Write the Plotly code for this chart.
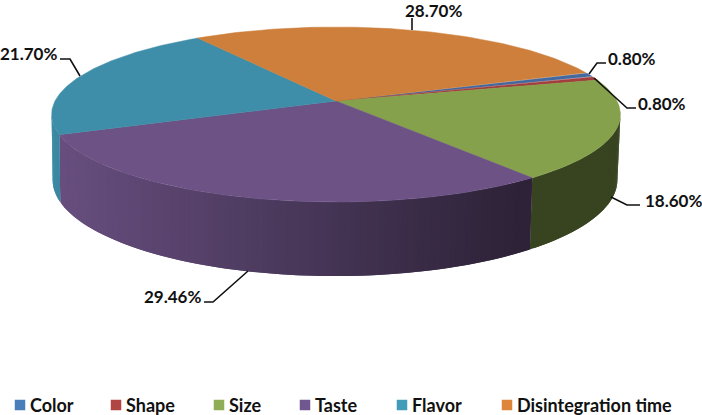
import numpy as np
import plotly.graph_objects as go

categories = ["Color", "Shape", "Size", "Taste", "Flavor", "Disintegration time"]
values = [0.80, 0.80, 18.60, 29.46, 21.70, 28.70]
value_labels = ["0.80%", "0.80%", "18.60%", "29.46%", "21.70%", "28.70%"]

top_colors = ["#44699f", "#a33e3e", "#86a14b", "#6c5285", "#3e8ea9", "#cd7f3b"]
legend_colors = ["#4a7ebb", "#b04543", "#8fad56", "#70578f", "#409cb8", "#dd853a"]

# label placement in page pixels
label_x = [632, 662, 673, 172, 28, 433]
label_y = [58, 103, 200, 296, 53, 10]
leaders = [
    [(589, 74), (597, 63), (606, 63)],
    [(594, 78), (627, 108), (636, 108)],
    [(611, 197), (627, 205), (640, 205)],
    [(248, 271), (213, 302), (204, 302)],
    [(80, 76), (70, 59), (60, 59)],
    [(412, 30), (412, 18)],
]
legend_x = [20, 116, 219, 305, 402, 507]
legend_y = 405

# projection of the pie disc, p is the perspective
start_angle = 20.5
p = 0.1543
cx, cy, a, b = 336, 101, 281, 85.4
cx2, cy2, a2, b2 = 335, 165, 279, 93.9


def project(t, top=True):
    t = np.radians(t)
    d = 1 + p * np.sin(t)
    if top:
        return cx + a * np.cos(t) / d, cy - b * np.sin(t) / d
    return cx2 + a2 * np.cos(t) / d, cy2 - b2 * np.sin(t) / d


def shade(color, f):
    rgb = [int(color[i:i + 2], 16) for i in (1, 3, 5)]
    return "rgb({},{},{})".format(*[round(c * f) for c in rgb])


def side_factor(x):
    return max(0.42, 0.95 - 0.55 * (x - 60) / 470)


fig = go.Figure()

total = sum(values)
edges = start_angle - np.cumsum([0] + values) * 360 / total

# side wall first, only between the two silhouette angles (sin t = -p)
# painted left to right with overlap so no seams show between the strips
for i, color in enumerate(top_colors):
    t1 = min(edges[i], -9)
    t0 = max(edges[i + 1], -171)
    if t0 >= t1:
        continue
    n = max(1, int(t1 - t0))
    ts = np.linspace(t0, t1, n + 1)
    for s in range(n):
        seg = np.linspace(ts[s], ts[min(s + 2, n)], 4)
        tx, ty = project(seg)
        bx, by = project(seg[::-1], top=False)
        c = shade(color, side_factor(float(tx[0])))
        fig.add_trace(go.Scatter(
            x=list(tx) + list(bx) + [tx[0]],
            y=list(ty) + list(by) + [ty[0]],
            mode="lines", fill="toself", fillcolor=c,
            line=dict(width=0),
            hoverinfo="skip", showlegend=False,
        ))

# top of the disc
for i, color in enumerate(top_colors):
    ts = np.linspace(edges[i], edges[i + 1], 90)
    rx, ry = project(ts)
    fig.add_trace(go.Scatter(
        x=[cx] + list(rx) + [cx],
        y=[cy] + list(ry) + [cy],
        mode="lines", fill="toself", fillcolor=color,
        line=dict(color=color, width=0.5),
        name=categories[i], hoverinfo="name", showlegend=False,
    ))

# leader lines and value labels
for pts, lx, ly, txt in zip(leaders, label_x, label_y, value_labels):
    fig.add_trace(go.Scatter(
        x=[q[0] for q in pts], y=[q[1] for q in pts],
        mode="lines", line=dict(color="#111111", width=1.6),
        hoverinfo="skip", showlegend=False,
    ))
    fig.add_annotation(x=lx, y=ly, text=txt, showarrow=False,
                       font=dict(family="Lato", size=17, color="#111111", weight="bold"))

# legend row
fig.add_trace(go.Scatter(
    x=legend_x, y=[legend_y] * len(legend_x),
    mode="markers",
    marker=dict(symbol="square", size=10.5, color=legend_colors),
    hoverinfo="skip", showlegend=False,
))
for lx, name in zip(legend_x, categories):
    fig.add_annotation(x=lx + 8, y=legend_y, text=name, showarrow=False, xanchor="left",
                       font=dict(family="Lato", size=18, color="#111111", weight="bold"))

fig.update_layout(
    width=702, height=415,
    margin=dict(l=0, r=0, t=0, b=0),
    paper_bgcolor="white", plot_bgcolor="white",
    xaxis=dict(range=[0, 702], visible=False, fixedrange=True),
    yaxis=dict(range=[415, 0], visible=False, fixedrange=True),
)

# the page's default body margin would push the chart 8px off
fig.write_html("out.html", post_script="document.body.style.margin='0';", config=dict(displayModeBar=False))
